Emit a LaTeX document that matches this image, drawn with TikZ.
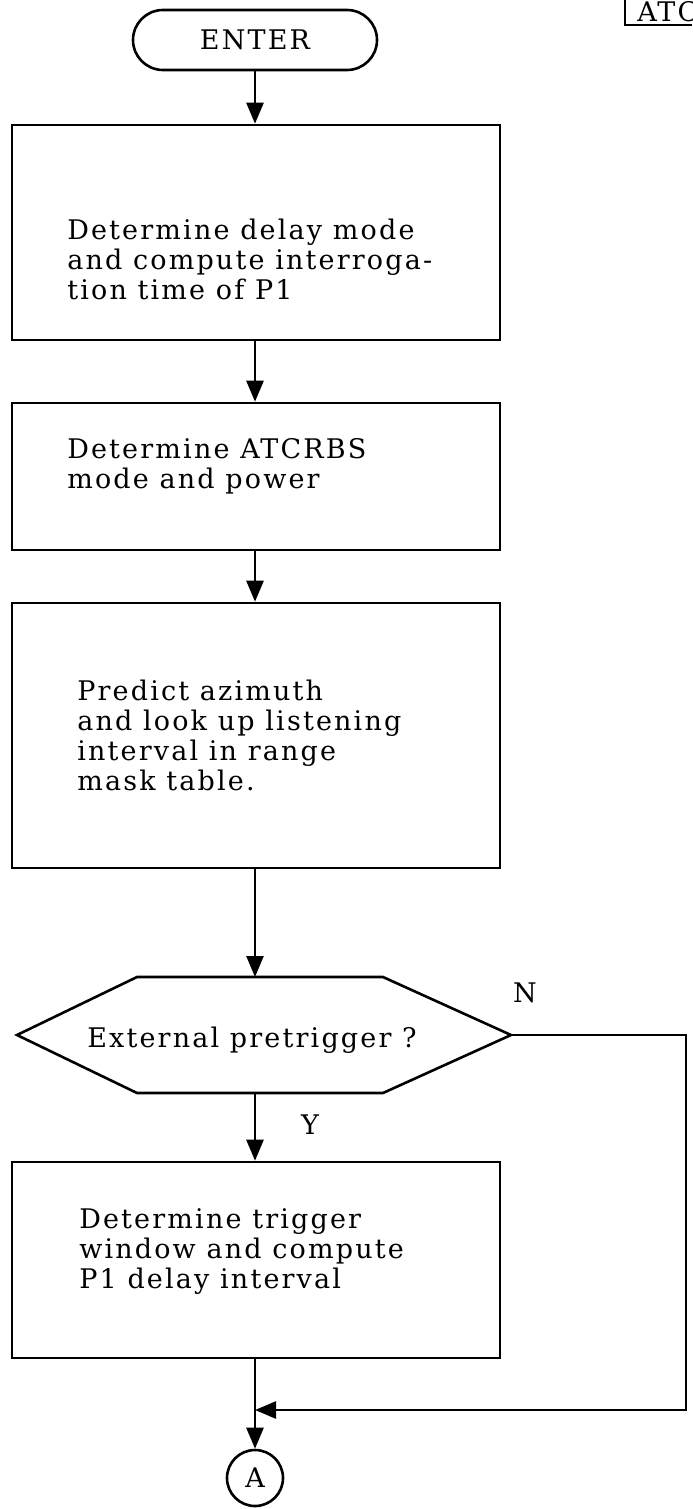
\documentclass[tikz,border=0pt]{standalone}
\usepackage{fontspec}
\setmainfont{DejaVu Serif}[LetterSpace=8]
\usetikzlibrary{arrows.meta}
\begin{document}
\begin{tikzpicture}[x=0.5pt, y=-0.5pt, line width=1.3pt,
    font=\fontsize{13.5}{15}\selectfont,
    box/.style={draw, rectangle, minimum width=244pt, inner sep=0pt},
    txt/.style={anchor=west, align=left, inner sep=0pt},
    flow/.style={-{Triangle[length=10.5pt,width=8.5pt]}}]
    \useasboundingbox (0,0) rectangle (692,1509);
    \draw (625,0) -- (625,25) -- (692,25);
    \node[anchor=base west, inner sep=0pt] (atc) at (636,22) {ATC};
    \node[draw, rounded corners=15pt, minimum width=122pt, minimum height=30pt] (enter) at (255,40) {ENTER};
    \node[box, minimum height=107.5pt] (delay) at (256,232.5) {};
    \node[txt] (delaytext) at (66,259) {Determine delay mode\\and compute interroga-\\tion time of P1};
    \node[box, minimum height=73.5pt] (mode) at (256,476.5) {};
    \node[txt] (modetext) at (66,466) {Determine ATCRBS\\mode and power};
    \node[box, minimum height=132.5pt] (azimuth) at (256,735.5) {};
    \node[txt] (azimuthtext) at (76,735) {Predict azimuth\\and look up listening\\interval in range\\mask table.};
    \coordinate (hexW) at (17,1035);
    \coordinate (hexE) at (511,1035);
    \coordinate (hexN) at (255,977);
    \coordinate (hexS) at (255,1093);
    \draw (hexW) -- (137,977) -- (383,977) -- (hexE) -- (383,1093) -- (137,1093) -- cycle;
    \node (pretrig) at (252,1040) {External pretrigger ?};
    \node (nlabel) at (525,993) {N};
    \node (ylabel) at (310,1125) {Y};
    \node[box, minimum height=98pt] (trigger) at (256,1260) {};
    \node[txt] (triggertext) at (78,1252) {Determine trigger\\window and compute\\P1 delay interval};
    \node[draw, circle, minimum size=28pt, inner sep=0pt] (conA) at (255,1478) {A};
    \coordinate (merge) at (255,1410);
    \coordinate (nback) at (686,1410);
    \draw[flow] (enter.south) -- (enter.south |- delay.north);
    \draw[flow] (enter.south |- delay.south) -- (enter.south |- mode.north);
    \draw[flow] (enter.south |- mode.south) -- (enter.south |- azimuth.north);
    \draw[flow] (enter.south |- azimuth.south) -- (hexN);
    \draw[flow] (hexS) -- (hexS |- trigger.north);
    \draw (hexS |- trigger.south) -- (merge);
    \draw[flow] (merge) -- (conA);
    \draw[flow] (hexE) -| (nback) -- (merge);
\end{tikzpicture}
\end{document}
